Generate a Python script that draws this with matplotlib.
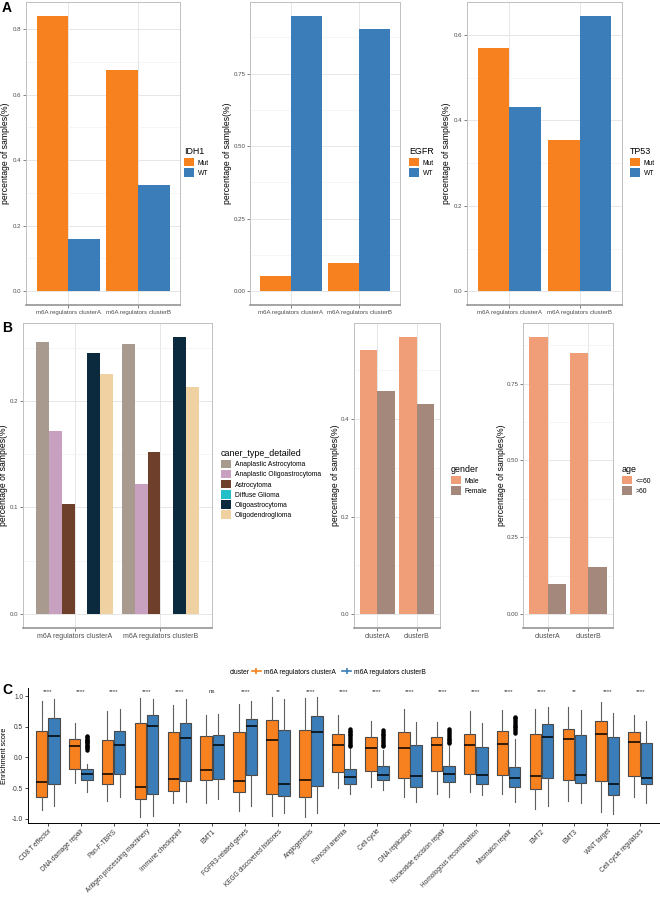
import numpy as np
import matplotlib
matplotlib.use('Agg')
import matplotlib.pyplot as plt
from matplotlib.patches import Patch
from matplotlib.lines import Line2D
from matplotlib.ticker import FixedLocator

plt.rcParams['font.family'] = ['Liberation Sans', 'DejaVu Sans']
plt.rcParams['axes.unicode_minus'] = False

###################### DATA ######################
ab_clusters = ['m6A regulators clusterA', 'm6A regulators clusterB']
idh1_mut = [0.841, 0.676]
idh1_wt = [0.159, 0.324]
egfr_mut = [0.051, 0.097]
egfr_wt = [0.949, 0.903]
tp53_mut = [0.569, 0.355]
tp53_wt = [0.431, 0.645]

cancer_types = ['Anaplastic Astrocytoma', 'Anaplastic Oligoastrocytoma', 'Astrocytoma',
                'Diffuse Glioma', 'Oligoastrocytoma', 'Oligodendroglioma']
type_clusterA = [0.255, 0.172, 0.103, 0.0, 0.245, 0.225]
type_clusterB = [0.253, 0.122, 0.152, 0.0, 0.260, 0.213]

short_clusters = ['clusterA', 'clusterB']
gender_male = [0.543, 0.569]
gender_female = [0.457, 0.431]
age_le60 = [0.902, 0.848]
age_gt60 = [0.098, 0.152]

signatures = ['CD8 T effector', 'DNA damage repair', 'Pan-F-TBRS', 'Antigen processing machinery',
              'Immune checkpoint', 'EMT1', 'FGFR3-related genes', 'KEGG discovered histones',
              'Angiogenesis', 'Fanconi anemia', 'Cell cycle', 'DNA replication',
              'Nucleotide excision repair', 'Homologous recombination', 'Mismatch repair',
              'EMT2', 'EMT3', 'WNT target', 'Cell cycle regulators']
signif = ['****', '****', '****', '****', '****', 'ns', '****', '**', '****', '****',
          '****', '****', '****', '****', '****', '****', '**', '****', '****']

# cluster A box stats
a_lo = [-0.86, -0.42, -0.71, -0.97, -0.75, -0.75, -0.87, -0.96, -0.98, -0.50,
        -0.48, -0.64, -0.59, -0.56, -0.60, -0.84, -0.71, -0.89, -0.64]
a_q1 = [-0.64, -0.18, -0.43, -0.67, -0.54, -0.37, -0.57, -0.60, -0.64, -0.23,
        -0.22, -0.33, -0.22, -0.27, -0.28, -0.52, -0.37, -0.39, -0.31]
a_med = [-0.40, 0.19, -0.27, -0.48, -0.35, -0.21, -0.38, 0.29, -0.37, 0.21,
         0.15, 0.16, 0.20, 0.20, 0.22, -0.30, 0.30, 0.39, 0.26]
a_q3 = [0.43, 0.31, 0.28, 0.57, 0.42, 0.35, 0.41, 0.62, 0.45, 0.38,
        0.33, 0.42, 0.33, 0.38, 0.43, 0.39, 0.46, 0.60, 0.41]
a_hi = [0.92, 0.56, 0.76, 0.97, 0.86, 0.69, 0.87, 0.98, 0.97, 0.70,
        0.59, 0.79, 0.58, 0.76, 0.78, 0.79, 0.82, 0.90, 0.69]

# cluster B box stats
b_lo = [-0.79, -0.57, -0.64, -0.95, -0.72, -0.68, -0.80, -0.91, -0.90, -0.60,
        -0.53, -0.72, -0.64, -0.62, -0.72, -0.80, -0.75, -0.93, -0.75]
b_q1 = [-0.43, -0.37, -0.27, -0.60, -0.39, -0.35, -0.29, -0.63, -0.47, -0.43,
        -0.37, -0.49, -0.40, -0.44, -0.48, -0.33, -0.41, -0.61, -0.44]
b_med = [0.35, -0.27, 0.21, 0.52, 0.32, 0.21, 0.51, -0.44, 0.41, -0.32,
         -0.28, -0.31, -0.27, -0.29, -0.34, 0.33, -0.28, -0.44, -0.33]
b_q3 = [0.64, -0.18, 0.43, 0.70, 0.57, 0.36, 0.63, 0.45, 0.68, -0.19,
        -0.14, 0.20, -0.14, 0.17, -0.16, 0.55, 0.36, 0.33, 0.23]
b_hi = [0.95, -0.11, 0.80, 0.95, 0.95, 0.71, 0.93, 0.96, 0.98, 0.15,
        0.13, 0.58, 0.18, 0.57, 0.30, 0.83, 0.77, 0.72, 0.59]

# outliers of cluster B (signature index -> values)
b_fliers = {
    1: [0.13, 0.15, 0.17, 0.19, 0.21, 0.23, 0.25, 0.27, 0.29, 0.31, 0.33, 0.35],
    9: [0.18, 0.21, 0.24, 0.27, 0.30, 0.33, 0.36, 0.39, 0.42, 0.44, 0.46],
    10: [0.18, 0.21, 0.24, 0.27, 0.30, 0.33, 0.36, 0.39, 0.42, 0.45],
    12: [0.23, 0.25, 0.28, 0.31, 0.34, 0.37, 0.40, 0.43, 0.46],
    14: [0.40, 0.43, 0.46, 0.49, 0.52, 0.55, 0.58, 0.61, 0.64, 0.66],
}

################### STYLE ###################
ORANGE = '#F8811F'
BLUE = '#3A7DB8'
type_colors = ['#A89A8E', '#C8A0C0', '#6E402C', '#22BFC9', '#0B2A3D', '#F0D2A2']
MALE = '#EF9E78'
FEMALE = '#A3887B'

W, H = 660, 897
fig = plt.figure(figsize=(W / 100, H / 100), dpi=100)


def add_ax(x0, y0, x1, y1):
    ax = fig.add_axes([x0 / W, 1 - y1 / H, (x1 - x0) / W, (y1 - y0) / H])
    ax._px = (x0, x1)
    return ax


def place_ylabel(ax, text, xr, size):
    # xr: right edge (pixels) of the rotated label
    x0, x1 = ax._px
    ax.set_ylabel(text, fontsize=size)
    ax.yaxis.set_label_coords((xr - x0) / (x1 - x0), 0.5)


def style_bw(ax, ticks, labels, ymax, xlabels, xlab_size, ylab_x):
    ax.set_xlim(0.4, 2.6)
    ax.set_ylim(-0.05 * ymax, 1.05 * ymax)
    ax.set_yticks(ticks)
    ax.set_yticklabels(labels)
    minors = [(ticks[i] + ticks[i + 1]) / 2 for i in range(len(ticks) - 1)]
    minors.append(ticks[-1] + (ticks[1] - ticks[0]) / 2)
    ax.yaxis.set_minor_locator(FixedLocator(minors))
    ax.set_xticks([1, 2])
    ax.set_xticklabels(xlabels)
    ax.grid(True, which='major', color='#E6E6E6', lw=0.7)
    ax.grid(True, which='minor', axis='y', color='#F2F2F2', lw=0.5)
    ax.set_axisbelow(True)
    ax.tick_params(axis='y', which='major', labelsize=4.4, colors='#4D4D4D',
                   length=2, width=0.5, pad=1.2)
    ax.tick_params(axis='x', which='major', labelsize=xlab_size, colors='#4D4D4D',
                   length=2, width=0.5, pad=1.5)
    ax.tick_params(which='minor', length=0)
    for s in ['top', 'left', 'right']:
        ax.spines[s].set_color('#C0C0C0')
        ax.spines[s].set_linewidth(0.7)
    ax.spines['bottom'].set_color('#8C8C8C')
    ax.spines['bottom'].set_linewidth(1.1)
    place_ylabel(ax, 'percentage of samples(%)', ylab_x, 6.2)


def bw_legend(title, labels, colors, x, y):
    hd = [Patch(facecolor=c, edgecolor='none') for c in colors]
    fig.legend(hd, labels, title=title, loc='center left',
               bbox_to_anchor=(x / W, 1 - y / H), frameon=False,
               fontsize=4.9, title_fontsize=6.4, handlelength=1.5, handleheight=1.5,
               handletextpad=0.5, labelspacing=0.25, alignment='left',
               borderaxespad=0, borderpad=0)


x2 = np.arange(1, 3)

################### A ###################
ax = add_ax(26, 2, 180, 305)
ax.bar(x2 - 0.225, idh1_mut, width=0.45, color=ORANGE)
ax.bar(x2 + 0.225, idh1_wt, width=0.45, color=BLUE)
style_bw(ax, [0.0, 0.2, 0.4, 0.6, 0.8], ['0.0', '0.2', '0.4', '0.6', '0.8'], 0.841,
         ab_clusters, 4.4, 10)
bw_legend('IDH1', ['Mut', 'WT'], [ORANGE, BLUE], 184, 162)

ax = add_ax(250, 2, 400, 305)
ax.bar(x2 - 0.225, egfr_mut, width=0.45, color=ORANGE)
ax.bar(x2 + 0.225, egfr_wt, width=0.45, color=BLUE)
style_bw(ax, [0.0, 0.25, 0.5, 0.75], ['0.00', '0.25', '0.50', '0.75'], 0.949,
         ab_clusters, 4.4, 232)
bw_legend('EGFR', ['Mut', 'WT'], [ORANGE, BLUE], 409, 162)

ax = add_ax(467, 2, 622, 305)
ax.bar(x2 - 0.225, tp53_mut, width=0.45, color=ORANGE)
ax.bar(x2 + 0.225, tp53_wt, width=0.45, color=BLUE)
style_bw(ax, [0.0, 0.2, 0.4, 0.6], ['0.0', '0.2', '0.4', '0.6'], 0.645,
         ab_clusters, 4.4, 451)
bw_legend('TP53', ['Mut', 'WT'], [ORANGE, BLUE], 630, 162)

################### B ###################
ax = add_ax(23, 323, 212, 628)
for i, c in enumerate(type_colors):
    off = (i - 2.5) * 0.15
    ax.bar(x2 + off, [type_clusterA[i], type_clusterB[i]], width=0.15, color=c)
style_bw(ax, [0.0, 0.1, 0.2], ['0.0', '0.1', '0.2'], 0.260, ab_clusters, 5.0, 8)
bw_legend('caner_type_detailed', cancer_types, type_colors, 221, 484)

ax = add_ax(354, 323, 440, 628)
ax.bar(x2 - 0.225, gender_male, width=0.45, color=MALE)
ax.bar(x2 + 0.225, gender_female, width=0.45, color=FEMALE)
style_bw(ax, [0.0, 0.2, 0.4], ['0.0', '0.2', '0.4'], 0.569, short_clusters, 5.0, 340)
bw_legend('gender', ['Male', 'Female'], [MALE, FEMALE], 451, 480)

ax = add_ax(523, 323, 613, 628)
ax.bar(x2 - 0.225, age_le60, width=0.45, color=MALE)
ax.bar(x2 + 0.225, age_gt60, width=0.45, color=FEMALE)
style_bw(ax, [0.0, 0.25, 0.5, 0.75], ['0.00', '0.25', '0.50', '0.75'], 0.902,
         short_clusters, 5.0, 506)
bw_legend('age', ['<=60', '>60'], [MALE, FEMALE], 622, 480)

################### C ###################
ax = add_ax(28, 688, 660, 823)
n = len(signatures)
pos = np.arange(1, n + 1)


def make_stats(lo, q1, med, q3, hi, fl):
    out = []
    for i in range(n):
        out.append(dict(whislo=lo[i], q1=q1[i], med=med[i], q3=q3[i], whishi=hi[i],
                        fliers=fl.get(i, [])))
    return out


for stats, off, col in [(make_stats(a_lo, a_q1, a_med, a_q3, a_hi, {}), -0.185, ORANGE),
                        (make_stats(b_lo, b_q1, b_med, b_q3, b_hi, b_fliers), 0.185, BLUE)]:
    ax.bxp(stats, positions=pos + off, widths=0.35, patch_artist=True, showcaps=False,
           boxprops=dict(facecolor=col, edgecolor='#4A4A4A', linewidth=0.8),
           whiskerprops=dict(color='#5E5E5E', linewidth=0.8),
           medianprops=dict(color='black', linewidth=1.1),
           flierprops=dict(marker='o', markerfacecolor='black', markeredgecolor='black',
                           markersize=2.2, linestyle='none'))

for i, s in enumerate(signif):
    ax.text(pos[i], 1.075, s, ha='center', va='center', fontsize=4.5, color='#333333')

ax.set_xlim(0.4, n + 0.6)
ax.set_ylim(-1.07, 1.135)
ax.set_yticks([-1.0, -0.5, 0.0, 0.5, 1.0])
ax.set_yticklabels(['-1.0', '-0.5', '0.0', '0.5', '1.0'])
ax.set_xticks(pos)
ax.set_xticklabels(signatures, rotation=45, ha='right', rotation_mode='anchor')
ax.tick_params(axis='both', labelsize=4.7, colors='black', length=2, width=0.5, pad=1.5)
for lab in ax.get_xticklabels() + ax.get_yticklabels():
    lab.set_color('#333333')
ax.spines['top'].set_visible(False)
ax.spines['right'].set_visible(False)
ax.spines['left'].set_linewidth(0.7)
ax.spines['bottom'].set_linewidth(0.7)
place_ylabel(ax, 'Enrichment score', 8, 5.2)

fig.text(230 / W, 1 - 672 / H, 'cluster', fontsize=4.9, va='center', ha='left')
hd = [Line2D([0], [0], color=ORANGE, lw=1.2, marker='|', markersize=4, markeredgewidth=1.2),
      Line2D([0], [0], color=BLUE, lw=1.2, marker='|', markersize=4, markeredgewidth=1.2)]
fig.legend(hd, ['m6A regulators clusterA', 'm6A regulators clusterB'], ncol=2,
           loc='center left', bbox_to_anchor=(252 / W, 1 - 672 / H), frameon=False,
           fontsize=4.9, handlelength=1.3, handletextpad=0.4, columnspacing=1.0,
           borderaxespad=0, borderpad=0)

################### LABELS ###################
for txt, y in [('A', 8), ('B', 328), ('C', 690)]:
    fig.text(2 / W, 1 - y / H, txt, fontsize=10, fontweight='bold', va='center', ha='left')

fig.savefig('out.png', dpi=100)
